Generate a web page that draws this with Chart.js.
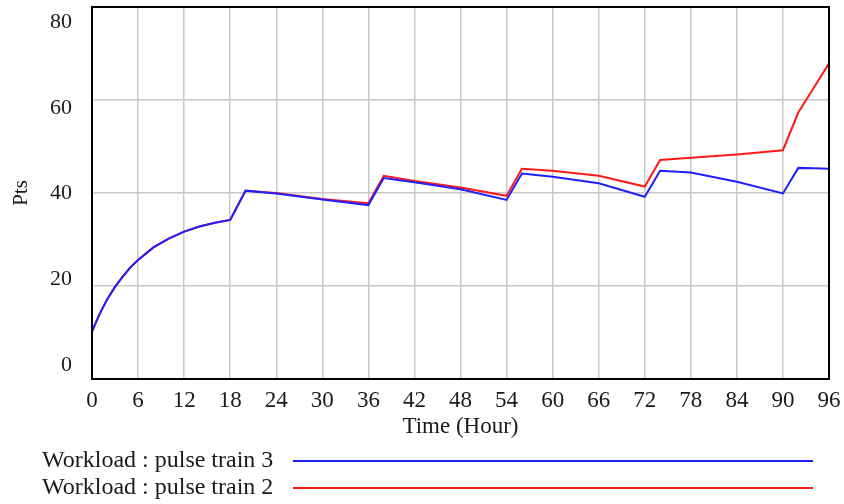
<!DOCTYPE html>
<html>
<head>
<meta charset="utf-8">
<script src="https://cdn.jsdelivr.net/npm/chart.js@4"></script>
<style>
  body { margin: 0; background: #fff; }
  #wrap { width: 844px; height: 504px; }
</style>
</head>
<body>
<div id="wrap"><canvas id="pulseChart"></canvas></div>
<script>
// time (hour) of each sample
const hours = [0, 1, 2, 3, 4, 5, 6, 8, 10, 12, 14, 16, 18, 20, 24, 30, 36, 38, 42, 48, 54, 56, 60, 66, 72, 74, 78, 84, 90, 92, 94, 96];
// Workload : pulse train 3
const train3 = [10.2, 14.0, 17.2, 19.8, 22.0, 24.0, 25.6, 28.3, 30.2, 31.7, 32.8, 33.6, 34.2, 40.5, 39.9, 38.6, 37.4, 43.2, 42.3, 40.8, 38.5, 44.2, 43.5, 42.1, 39.2, 44.8, 44.4, 42.4, 39.9, 45.4, 45.3, 45.2];
// Workload : pulse train 2
const train2 = [10.2, 14.0, 17.2, 19.8, 22.0, 24.0, 25.6, 28.3, 30.2, 31.7, 32.8, 33.6, 34.2, 40.5, 40.0, 38.7, 37.8, 43.7, 42.6, 41.2, 39.4, 45.2, 44.8, 43.7, 41.4, 47.1, 47.6, 48.3, 49.2, 57.3, 62.6, 67.9];
const yTicks = [0, 20, 40, 60, 80];
const seriesNames = ['Workload : pulse train 3', 'Workload : pulse train 2'];

const FONT = 'Liberation Serif';
const INK = '#1a1a1a';
const GRID = '#c8c8c8';

// fixed box sizes, and no extra edge padding for overhanging labels
function fixBox(w, h) {
   return (s) => {
      if (w !== null) s.width = w;
      if (h !== null) s.height = h;
      s.paddingTop = s.paddingBottom = s.paddingLeft = s.paddingRight = 0;
   };
}

// legend below the plot: text first, then a long line sample
const lineLegend = {
   id: 'lineLegend',
   afterDraw(chart) {
      const c = chart.ctx;
      c.save();
      chart.data.datasets.forEach((ds, i) => {
         const y = 461 + i * 27;
         c.font = '24px "' + FONT + '"';
         c.fillStyle = INK;
         c.textBaseline = 'middle';
         c.textAlign = 'left';
         c.fillText(ds.label, 42, y);
         c.strokeStyle = ds.borderColor;
         c.lineWidth = 2;
         c.beginPath();
         c.moveTo(293, y);
         c.lineTo(813, y);
         c.stroke();
      });
      c.restore();
   }
};

// black frame round the plot area
const plotFrame = {
   id: 'plotFrame',
   afterDraw(chart) {
      const a = chart.chartArea;
      const c = chart.ctx;
      c.save();
      c.strokeStyle = '#000';
      c.lineWidth = 2;
      c.strokeRect(a.left, a.top, a.right - a.left, a.bottom - a.top);
      c.restore();
   }
};

const ctx = document.getElementById('pulseChart').getContext('2d');
new Chart(ctx, {
   type: 'line',
   data: {
      datasets: [{
         label: seriesNames[0],
         data: hours.map((h, i) => ({ x: h, y: train3[i] })),
         borderColor: '#2020ff',
         borderWidth: 2,
         pointRadius: 0,
         yAxisID: 'y'
      }, {
         label: seriesNames[1],
         data: hours.map((h, i) => ({ x: h, y: train2[i] })),
         borderColor: '#ff1a1a',
         borderWidth: 2,
         pointRadius: 0,
         yAxisID: 'y'
      }]
   },
   options: {
      responsive: true,
      maintainAspectRatio: false,
      animation: false,
      layout: { padding: { top: 7, bottom: 63, left: 0, right: 0 } },
      scales: {
         x: {
            type: 'linear',
            min: 0,
            max: 96,
            afterFit: fixBox(null, 62),
            ticks: { stepSize: 6, padding: 8, color: INK, font: { family: FONT, size: 23 } },
            grid: { color: GRID, lineWidth: 1.5, drawTicks: false },
            border: { display: false },
            title: { display: true, text: 'Time (Hour)', color: INK, padding: 0, font: { family: FONT, size: 23 } }
         },
         // label axis: Vensim spaces its value labels a little tighter than the grid
         yl: {
            position: 'left',
            min: -3.27,
            max: 83.5,
            afterBuildTicks: (s) => { s.ticks = yTicks.map(v => ({ value: v })); },
            afterFit: fixBox(92, null),
            ticks: { padding: 20, color: INK, font: { family: FONT, size: 22 } },
            grid: { display: false, drawTicks: false },
            border: { display: false },
            title: { display: true, text: 'Pts', color: INK, padding: { top: 9 }, font: { family: FONT, size: 21 } }
         },
         y: {
            position: 'right',
            min: 0,
            max: 80,
            afterFit: fixBox(15, null),
            ticks: { display: false, stepSize: 20 },
            grid: { color: GRID, lineWidth: 1.5, drawTicks: false },
            border: { display: false }
         }
      },
      plugins: {
         legend: { display: false },
         tooltip: { enabled: false }
      }
   },
   plugins: [lineLegend, plotFrame]
});
</script>
</body>
</html>
